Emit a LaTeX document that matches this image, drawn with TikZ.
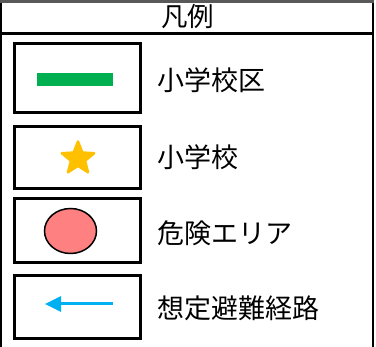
\documentclass[tikz,border=0pt]{standalone}
\usepackage{fontspec}
\newfontfamily\jp{Noto Sans CJK JP}
\usetikzlibrary{shapes.geometric,arrows.meta}
\definecolor{bargreen}{HTML}{00B050}
\definecolor{stargold}{HTML}{FFC000}
\definecolor{dangerpink}{HTML}{FF8080}
\definecolor{routeblue}{HTML}{00B0F0}
\tikzset{
  x=1pt,y=1pt,
  legbox/.style={draw=black,line width=3pt,minimum width=126pt,minimum height=66pt,inner sep=0pt},
  legtext/.style={anchor=west,inner sep=0pt,font=\jp\fontsize{27}{30}\selectfont},
  frameline/.style={line width=2pt,black}
}
\begin{document}
\begin{tikzpicture}
\useasboundingbox (0,0) rectangle (376,-347);
% outer frame (no bottom edge)
\draw[frameline] (1,-347) -- (1,-1.5) -- (372.5,-1.5) -- (372.5,-347);
\draw[line width=3pt,gray!70!black] (0,-1.5) -- (374,-1.5);
\draw[line width=3pt] (0,-33.5) -- (374,-33.5);
\node[font=\jp\fontsize{26.5}{30}\selectfont,inner sep=0pt] (title) at (188,-17) {凡例};
% boxes
\node[legbox,minimum height=69pt] (b1) at (77.5,-78) {};
\node[legbox,minimum height=62pt] (b2) at (77.5,-157.5) {};
\node[legbox,minimum height=64pt] (b3) at (77.5,-230.5) {};
\node[legbox,minimum height=63pt] (b4) at (77.5,-307) {};
% symbols
\node[fill=bargreen,minimum width=76pt,minimum height=13pt,inner sep=0pt] (bar) at (75,-80) {};
\node[star,star points=5,star point ratio=2.3,fill=stargold,draw=stargold,line width=2.5pt,line join=round,minimum size=34pt,inner sep=0pt] (st) at (78,-158.5) {};
\node[ellipse,draw=black,line width=1.5pt,fill=dangerpink,minimum width=52pt,minimum height=45pt,inner sep=0pt] (el) at (70.5,-231) {};
\coordinate (a1) at (113,-304);
\coordinate (a2) at (45,-304);
\draw[routeblue,line width=3pt,-{Triangle[length=16pt,width=15pt]}] (a1) -- (a2);
% labels
\node[legtext] (t1) at (157,-80) {小学校区};
\node[legtext] (t2) at (157,-157) {小学校};
\node[legtext] (t3) at (157,-233) {危険エリア};
\node[legtext] (t4) at (157,-308) {想定避難経路};
\end{tikzpicture}
\end{document}
